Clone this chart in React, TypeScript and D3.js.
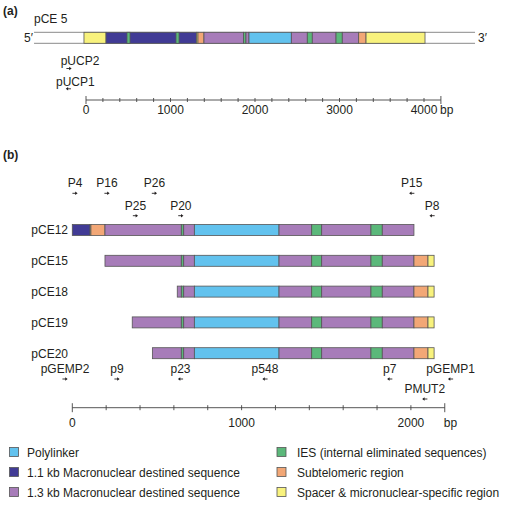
import React from "react";
import * as d3 from "d3";

// ---------- data ----------
type Seg = { type: string; start: number; end: number };

// Part (a): pCE 5 map (bp)
const pce5Flank = { start: -615, end: 4604 };
const pce5Segments: Seg[] = [
  { type: "spacer", start: -24, end: 237 },
  { type: "mac11", start: 237, end: 1308 },
  { type: "ies", start: 485, end: 521 },
  { type: "ies", start: 1065, end: 1101 },
  { type: "spacer", start: 1308, end: 1325 },
  { type: "subtel", start: 1325, end: 1396 },
  { type: "mac13", start: 1396, end: 1864 },
  { type: "ies", start: 1864, end: 1893 },
  { type: "mac13", start: 1893, end: 1929 },
  { type: "poly", start: 1929, end: 2430 },
  { type: "mac13", start: 2430, end: 2619 },
  { type: "ies", start: 2619, end: 2678 },
  { type: "mac13", start: 2678, end: 2959 },
  { type: "ies", start: 2959, end: 3033 },
  { type: "mac13", start: 3033, end: 3227 },
  { type: "subtel", start: 3227, end: 3314 },
  { type: "spacer", start: 3314, end: 4012 },
];
const pce5Primers = [
  { name: "pUCP2", pos: -201, dir: 1, level: 0 },
  { name: "pUCP1", pos: -209, dir: -1, level: 1 },
];
const axisATicks = d3.range(0, 4201, 200);
const axisALabels = [0, 1000, 2000, 3000, 4000];

// Part (b): subclones
const rowNames = ["pCE12", "pCE15", "pCE18", "pCE19", "pCE20"];
const rowStarts = [0, 193, 620, 354, 473];
const pce12Prefix: Seg[] = [
  { type: "mac11", start: 0, end: 105 },
  { type: "spacer", start: 105, end: 110 },
  { type: "subtel", start: 110, end: 193 },
];
const coreSegments: Seg[] = [
  { type: "ies", start: 644, end: 658 },
  { type: "mac13", start: 658, end: 721 },
  { type: "poly", start: 721, end: 1221 },
  { type: "mac13", start: 1221, end: 1414 },
  { type: "ies", start: 1414, end: 1473 },
  { type: "mac13", start: 1473, end: 1764 },
  { type: "ies", start: 1764, end: 1831 },
  { type: "mac13", start: 1831, end: 2018 },
];
const endSegments: Seg[] = [
  { type: "subtel", start: 2018, end: 2101 },
  { type: "spacer", start: 2101, end: 2137 },
];
const topPrimers = [
  { name: "P4", pos: 16, dir: 1, level: 0 },
  { name: "P16", pos: 205, dir: 1, level: 0 },
  { name: "P26", pos: 485, dir: 1, level: 0 },
  { name: "P25", pos: 373, dir: 1, level: 1 },
  { name: "P20", pos: 641, dir: 1, level: 1 },
  { name: "P15", pos: 2005, dir: -1, level: 0 },
  { name: "P8", pos: 2125, dir: -1, level: 1 },
];
const bottomPrimers = [
  { name: "pGEMP2", pos: -43, dir: 1, level: 0 },
  { name: "p9", pos: 264, dir: 1, level: 0 },
  { name: "p23", pos: 639, dir: -1, level: 0 },
  { name: "p548", pos: 1138, dir: -1, level: 0 },
  { name: "p7", pos: 1875, dir: -1, level: 0 },
  { name: "pGEMP1", pos: 2234, dir: -1, level: 0 },
  { name: "PMUT2", pos: 2082, dir: -1, level: 1 },
];
const axisBTicks = d3.range(0, 2201, 200);
const axisBLabels = [0, 1000, 2000];

const legendLeft = [
  { type: "poly", label: "Polylinker" },
  { type: "mac11", label: "1.1 kb Macronuclear destined sequence" },
  { type: "mac13", label: "1.3 kb Macronuclear destined sequence" },
];
const legendRight = [
  { type: "ies", label: "IES (internal eliminated sequences)" },
  { type: "subtel", label: "Subtelomeric region" },
  { type: "spacer", label: "Spacer & micronuclear-specific region" },
];

// ---------- style ----------
const colors: Record<string, string> = {
  poly: "#62c2ee",
  mac11: "#413b95",
  mac13: "#a77cb9",
  ies: "#5bb87a",
  subtel: "#f2a776",
  spacer: "#f8f27d",
};
const FONT = "'Liberation Sans', Arial, Helvetica, sans-serif";
const TXT = "#231f20";
const SEG_STROKE = "#555";

function rowSegments(i: number): Seg[] {
  if (i === 0) {
    return [...pce12Prefix, { type: "mac13", start: 193, end: 644 }, ...coreSegments];
  }
  return [{ type: "mac13", start: rowStarts[i], end: 644 }, ...coreSegments, ...endSegments];
}

function Arrow({ x, y, dir }: { x: number; y: number; dir: number }) {
  const half = 2.6;
  const tip = x + dir * half;
  const back = x - dir * half;
  return (
    <g>
      <line x1={back} y1={y} x2={tip - dir * 1.5} y2={y} stroke={TXT} strokeWidth={0.9} />
      <path
        d={`M${tip},${y} L${tip - dir * 2.4},${y - 1.7} L${tip - dir * 2.4},${y + 1.7} Z`}
        fill={TXT}
      />
    </g>
  );
}

export default function App() {
  const xa = d3.scaleLinear().domain([0, 4000]).range([86, 424]);
  const xb = d3.scaleLinear().domain([0, 2000]).range([72.3, 410.9]);
  const yRow = d3.scalePoint<string>().domain(rowNames).range([224.5, 347.7]);
  const barH = 11;

  const aBarY = 32.3;
  const aBarH = 11;
  const aAxisY = 100;
  const bAxisY = 407.7;

  const topLevelY = [{ text: 186.5, arrow: 193.3 }, { text: 210, arrow: 215.7 }];
  const botLevelY = [{ text: 373, arrow: 379 }, { text: 393, arrow: 399 }];
  const aLevelY = [{ text: 65, arrow: 68.5, dx: 11 }, { text: 86, arrow: 88.8, dx: 7 }];

  return (
    <svg
      width={509}
      height={515}
      style={{ position: "absolute", left: 0, top: 0, background: "#fff" }}
      fontFamily={FONT}
      fontSize={12}
      fill={TXT}
    >
      <rect width={509} height={515} fill="#fff" />

      {/* ---------- (a) ---------- */}
      <text x={3} y={15} fontWeight="bold" fontSize={12}>(a)</text>
      <text x={34} y={23}>pCE 5</text>
      <text x={33} y={42} textAnchor="end">5′</text>
      <text x={478} y={42}>3′</text>

      {/* white flanks with outline lines */}
      <rect x={xa(pce5Flank.start)} y={aBarY} width={xa(pce5Flank.end) - xa(pce5Flank.start)} height={aBarH} fill="#fff" />
      <line x1={xa(pce5Flank.start)} x2={xa(pce5Flank.end)} y1={aBarY} y2={aBarY} stroke="#8a8a8a" strokeWidth={1} />
      <line x1={xa(pce5Flank.start)} x2={xa(pce5Flank.end)} y1={aBarY + aBarH} y2={aBarY + aBarH} stroke="#8a8a8a" strokeWidth={1} />
      {pce5Segments.map((s, i) => (
        <rect
          key={i}
          x={xa(s.start)}
          y={aBarY}
          width={xa(s.end) - xa(s.start)}
          height={aBarH}
          fill={colors[s.type]}
          stroke={SEG_STROKE}
          strokeWidth={0.8}
        />
      ))}

      {pce5Primers.map((p) => {
        const lv = aLevelY[p.level];
        return (
          <g key={p.name}>
            <text x={xa(p.pos) + lv.dx} y={lv.text} textAnchor="middle">{p.name}</text>
            <Arrow x={xa(p.pos)} y={lv.arrow} dir={p.dir} />
          </g>
        );
      })}

      {/* axis (a) */}
      <line x1={xa(0)} x2={xa(4200)} y1={aAxisY} y2={aAxisY} stroke="#444" strokeWidth={0.9} />
      {axisATicks.map((t, i) => {
        const big = i === 0 || i === axisATicks.length - 1;
        return (
          <line key={t} x1={xa(t)} x2={xa(t)} y1={aAxisY - (big ? 4 : 2)} y2={aAxisY + (big ? 4 : 2)} stroke="#444" strokeWidth={0.9} />
        );
      })}
      {axisALabels.map((t) => (
        <text key={t} x={xa(t)} y={113.5} textAnchor="middle">{t}</text>
      ))}
      <text x={xa(4000) + 16} y={113.5}>bp</text>

      {/* ---------- (b) ---------- */}
      <text x={3} y={159} fontWeight="bold" fontSize={12}>(b)</text>

      {topPrimers.map((p) => {
        const lv = topLevelY[p.level];
        return (
          <g key={p.name}>
            <text x={xb(p.pos)} y={lv.text} textAnchor="middle">{p.name}</text>
            <Arrow x={xb(p.pos)} y={lv.arrow} dir={p.dir} />
          </g>
        );
      })}

      {rowNames.map((name, i) => {
        const y = yRow(name) as number;
        return (
          <g key={name}>
            <text x={68} y={y + barH / 2 + 4.3} textAnchor="end">{name}</text>
            {rowSegments(i).map((s, j) => (
              <rect
                key={j}
                x={xb(s.start)}
                y={y}
                width={xb(s.end) - xb(s.start)}
                height={barH}
                fill={colors[s.type]}
                stroke={SEG_STROKE}
                strokeWidth={0.8}
              />
            ))}
          </g>
        );
      })}

      {bottomPrimers.map((p) => {
        const lv = botLevelY[p.level];
        return (
          <g key={p.name}>
            <text x={xb(p.pos)} y={lv.text} textAnchor="middle">{p.name}</text>
            <Arrow x={xb(p.pos)} y={lv.arrow} dir={p.dir} />
          </g>
        );
      })}

      {/* axis (b) */}
      <line x1={xb(0)} x2={xb(2200)} y1={bAxisY} y2={bAxisY} stroke="#444" strokeWidth={0.9} />
      {axisBTicks.map((t, i) => {
        const big = i === 0 || i === axisBTicks.length - 1;
        return (
          <line key={t} x1={xb(t)} x2={xb(t)} y1={bAxisY - (big ? 4.5 : 2.5)} y2={bAxisY + (big ? 4.5 : 2.5)} stroke="#444" strokeWidth={0.9} />
        );
      })}
      {axisBLabels.map((t) => (
        <text key={t} x={xb(t)} y={427} textAnchor="middle">{t}</text>
      ))}
      <text x={xb(2200) - 1} y={427}>bp</text>

      {/* legend */}
      {legendLeft.map((l, i) => (
        <g key={l.type}>
          <rect x={9.5} y={447.5 + i * 20} width={9} height={9} fill={colors[l.type]} stroke={SEG_STROKE} strokeWidth={0.8} />
          <text x={27} y={456.5 + i * 20}>{l.label}</text>
        </g>
      ))}
      {legendRight.map((l, i) => (
        <g key={l.type}>
          <rect x={277} y={447.5 + i * 20} width={9} height={9} fill={colors[l.type]} stroke={SEG_STROKE} strokeWidth={0.8} />
          <text x={297} y={456.5 + i * 20}>{l.label}</text>
        </g>
      ))}
    </svg>
  );
}
